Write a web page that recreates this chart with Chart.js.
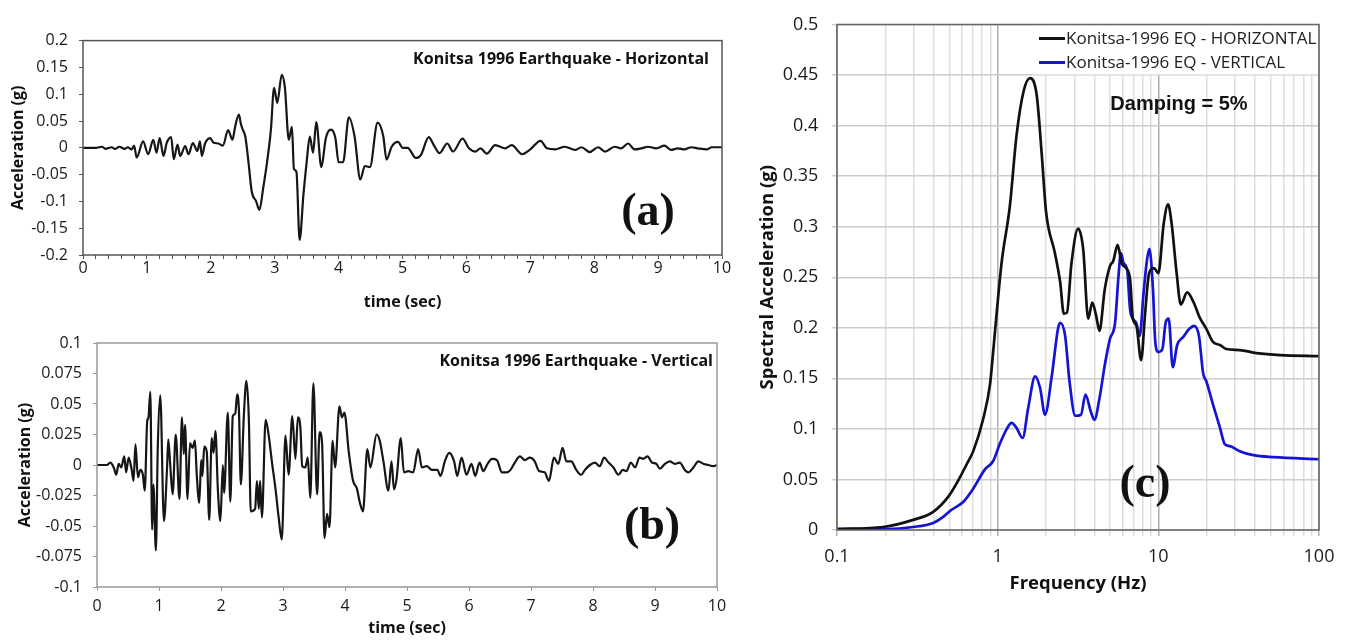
<!DOCTYPE html>
<html>
<head>
<meta charset="utf-8">
<script src="https://cdn.jsdelivr.net/npm/chart.js@4"></script>
<style>
  body { margin: 0; background: #fff; width: 1347px; height: 640px; position: relative; overflow: hidden; }
  canvas { position: absolute; }
</style>
</head>
<body>
<canvas id="chartH" width="740" height="300" style="left:0;top:20px"></canvas>
<canvas id="chartV" width="740" height="320" style="left:0;top:320px"></canvas>
<canvas id="chartSpec" width="607" height="640" style="left:740px;top:0"></canvas>
<script>
// Akcelerogram - skladowa pozioma (czas [s], przyspieszenie [g])
const timeH = [0, 0.2, 0.3, 0.35, 0.45, 0.5, 0.57, 0.65, 0.7, 0.76, 0.8, 0.84, 0.94, 1.02, 1.1, 1.15, 1.2, 1.26, 1.31, 1.38,
  1.42, 1.48, 1.52, 1.6, 1.65, 1.72, 1.79, 1.83, 1.86, 1.91, 1.99, 2.04, 2.12, 2.19, 2.27, 2.34, 2.38, 2.44, 2.47, 2.5,
  2.54, 2.59, 2.64, 2.71, 2.76, 2.82, 2.88, 2.94, 2.99, 3.04, 3.11, 3.16, 3.22, 3.27, 3.3, 3.34, 3.39, 3.45, 3.5, 3.55,
  3.6, 3.65, 3.73, 3.8, 3.88, 3.95, 4.0, 4.07, 4.16, 4.25, 4.34, 4.41, 4.49, 4.61, 4.7, 4.75, 4.83, 4.93,
  5.0, 5.08, 5.21, 5.29, 5.41, 5.49, 5.58, 5.7, 5.79, 5.94, 6.04, 6.14, 6.22, 6.32, 6.45, 6.61, 6.71, 6.87, 7.0, 7.16,
  7.26, 7.39, 7.54, 7.7, 7.8, 7.93, 8.06, 8.17, 8.32, 8.42, 8.53, 8.63, 8.74, 8.84, 8.97, 9.1, 9.2, 9.31, 9.41, 9.52,
  9.62, 9.76, 9.84, 10];
const accH = [0, 0, 0.002, -0.002, 0.001, -0.002, 0.002, -0.002, 0.001, -0.003, 0.004, -0.018, 0.012, -0.012, 0.015, -0.009, 0.018, -0.015, 0.009, 0.020,
  -0.021, 0.006, -0.015, 0.003, -0.012, 0.009, -0.006, 0.012, -0.015, 0.008, 0.018, 0.010, 0.008, 0.004, 0.033, 0.015, 0.039, 0.062, 0.045, 0.034,
  0.021, -0.027, -0.081, -0.100, -0.116, -0.075, -0.027, 0.033, 0.112, 0.084, 0.136, 0.112, 0.015, 0.039, -0.039, -0.045, -0.172, -0.087, -0.027, 0.021,
  -0.009, 0.048, -0.036, 0.018, 0.034, 0.018, -0.027, -0.027, 0.057, 0.021, -0.059, -0.034, -0.036, 0.047, 0.021, -0.022, 0.002, 0.011,
  0, 0, -0.019, -0.013, 0.020, 0.005, -0.010, 0.008, -0.007, 0.017, -0.001, -0.007, -0.001, -0.011, 0.005, -0.001, 0.005, -0.012, -0.003, 0.013,
  -0.001, -0.003, 0.002, -0.004, 0.001, -0.008, 0.001, -0.007, 0.002, -0.001, 0.008, -0.003, -0.001, 0.002, -0.001, 0.004, -0.004, -0.001, -0.003, 0.001,
  -0.001, -0.003, 0.001, 0.001];

// Akcelerogram - skladowa pionowa
const timeV = [0, 0.16, 0.215, 0.27, 0.31, 0.35, 0.39, 0.44, 0.47, 0.51, 0.56, 0.59, 0.62, 0.66, 0.7, 0.74, 0.77, 0.81, 0.83, 0.86,
  0.89, 0.91, 0.95, 0.98, 1.02, 1.08, 1.13, 1.15, 1.18, 1.22, 1.27, 1.33, 1.37, 1.4, 1.42, 1.46, 1.5, 1.54, 1.58, 1.61,
  1.65, 1.68, 1.7, 1.73, 1.77, 1.81, 1.85, 1.88, 1.91, 1.95, 1.99, 2.03, 2.05, 2.11, 2.15, 2.19, 2.23, 2.26, 2.29, 2.32,
  2.37, 2.41, 2.45, 2.48, 2.55, 2.58, 2.61, 2.63, 2.66, 2.72, 2.77, 2.82, 2.88, 2.93, 2.98, 3.04, 3.09, 3.15, 3.2, 3.24,
  3.28, 3.31, 3.36, 3.4, 3.44, 3.49, 3.55, 3.59, 3.63, 3.67, 3.71, 3.75, 3.8, 3.84, 3.91, 3.95, 3.99, 4.06,
  4.13, 4.19, 4.24, 4.29, 4.36, 4.41, 4.51, 4.56, 4.62, 4.7, 4.75, 4.79, 4.83, 4.9, 4.95, 5.02, 5.1, 5.18, 5.24, 5.32,
  5.4, 5.49, 5.54, 5.61, 5.68, 5.76, 5.81, 5.88, 5.96, 6.04, 6.1, 6.17, 6.23, 6.3, 6.37, 6.45, 6.53, 6.61, 6.67, 6.74,
  6.82, 6.9, 6.98, 7.06, 7.13, 7.22, 7.29, 7.37, 7.44, 7.51, 7.57, 7.65, 7.73, 7.81, 7.87, 7.95, 8.03, 8.11, 8.18, 8.25,
  8.33, 8.41, 8.48, 8.54, 8.61, 8.68, 8.75, 8.81, 8.88, 8.95, 9.02, 9.08, 9.16, 9.24, 9.32, 9.4, 9.48, 9.54, 9.62, 9.7,
  9.78, 9.86, 9.94, 10];
const accV = [0, 0, 0.002, -0.002, -0.008, 0.001, -0.002, 0.007, -0.006, 0.006, -0.004, -0.013, 0.017, -0.010, -0.004, -0.008, -0.021, 0.036, 0.039, 0.060,
  -0.053, -0.016, -0.070, 0.014, 0.057, -0.046, -0.002, 0.021, 0.001, -0.024, 0.025, -0.028, 0.039, 0.009, 0.033, -0.028, 0.018, 0.014, 0.020, -0.009,
  -0.031, 0.004, -0.009, 0.015, 0.011, -0.045, 0.022, 0.010, 0.028, -0.021, -0.046, 0, -0.023, 0.043, -0.030, 0.040, 0.042, 0.058, 0.044, -0.016,
  0.042, 0.069, 0.036, -0.038, -0.036, -0.013, -0.036, -0.013, -0.043, 0.037, 0.024, 0.003, -0.020, -0.043, -0.061, 0.024, -0.008, 0.040, 0.005, 0.039,
  0.031, -0.001, -0.002, 0.006, -0.027, 0.067, -0.024, 0.027, 0.018, -0.060, -0.040, -0.051, 0.020, -0.002, 0.048, 0.039, 0.043, 0.011,
  -0.013, -0.019, -0.031, -0.038, 0.013, -0.002, 0.025, 0.020, 0.003, -0.021, 0.003, -0.020, -0.012, 0.022, -0.006, -0.005, -0.006, 0.013, -0.002, -0.001,
  -0.004, -0.004, -0.009, 0.003, 0.010, 0.003, -0.009, 0.006, -0.008, 0.001, -0.009, 0.002, -0.005, 0.001, 0.005, 0.004, -0.006, -0.006, -0.004, 0.002,
  0.007, 0.004, 0.006, 0.003, -0.005, -0.006, -0.013, 0.006, 0.001, 0.014, 0.003, 0.003, -0.004, -0.008, -0.004, 0, 0.002, -0.001, 0.006, 0.002,
  -0.002, -0.008, -0.004, -0.005, 0.002, -0.002, 0.006, 0.005, 0.007, 0.002, 0.001, -0.003, 0.001, 0.003, 0.001, 0.002, -0.004, -0.006, -0.002, 0.003,
  0.001, 0, -0.001, 0];

// Spektrum odpowiedzi (czestotliwosc [Hz], przyspieszenie spektralne [g])
const freqH = [0.1, 0.194, 0.298, 0.397, 0.493, 0.582, 0.641, 0.705, 0.813, 0.896, 0.936, 0.98, 1.059, 1.19, 1.31, 1.45, 1.59, 1.75, 1.88, 2.0,
  2.27, 2.45, 2.58, 2.7, 2.88, 3.17, 3.41, 3.66, 3.88, 4.1, 4.3, 4.64, 5.0, 5.24, 5.58, 5.91, 6.3, 6.67, 6.94, 7.31,
  7.81, 8.28, 8.76, 9.4, 10.0, 10.8, 11.5, 12.1, 13.0, 13.8, 15.1, 16.6, 18.1, 19.9, 21.9, 24.2, 26.5, 32.1, 40.8, 57.4, 100];
const saH = [0.001, 0.003, 0.010, 0.018, 0.033, 0.052, 0.065, 0.078, 0.110, 0.144, 0.175, 0.210, 0.265, 0.320, 0.390, 0.434, 0.447, 0.430, 0.372, 0.315,
  0.274, 0.245, 0.214, 0.215, 0.264, 0.298, 0.277, 0.209, 0.225, 0.212, 0.197, 0.238, 0.261, 0.266, 0.282, 0.264, 0.259, 0.248, 0.209, 0.202,
  0.168, 0.215, 0.254, 0.259, 0.254, 0.303, 0.322, 0.303, 0.254, 0.223, 0.235, 0.225, 0.210, 0.199, 0.186, 0.183, 0.179, 0.178, 0.175, 0.173, 0.172];
const freqV = [0.1, 0.204, 0.298, 0.397, 0.458, 0.517, 0.612, 0.705, 0.833, 0.936, 1.03, 1.14, 1.22, 1.31, 1.43, 1.55, 1.71, 1.84, 1.97, 2.17,
  2.38, 2.45, 2.63, 2.8, 3.04, 3.3, 3.52, 3.8, 4.0, 4.3, 4.64, 5.0, 5.38, 5.65, 5.85, 6.08, 6.39, 6.67, 6.94, 7.28,
  7.65, 8.1, 8.5, 8.8, 9.26, 9.57, 10.0, 10.6, 11.1, 11.6, 12.3, 13.1, 14.3, 15.6, 16.7, 17.9, 19.0, 19.9, 21.9, 24.2,
  25.9, 27.9, 32.1, 39.0, 52.0, 100];
const saV = [0.001, 0.001, 0.003, 0.007, 0.013, 0.020, 0.028, 0.041, 0.060, 0.068, 0.085, 0.100, 0.106, 0.101, 0.091, 0.121, 0.152, 0.140, 0.114, 0.152,
  0.200, 0.205, 0.192, 0.147, 0.113, 0.114, 0.134, 0.117, 0.109, 0.130, 0.163, 0.189, 0.205, 0.251, 0.274, 0.264, 0.258, 0.218, 0.209, 0.205,
  0.192, 0.235, 0.267, 0.278, 0.238, 0.186, 0.176, 0.179, 0.205, 0.209, 0.161, 0.183, 0.191, 0.199, 0.202, 0.192, 0.155, 0.147, 0.124, 0.101,
  0.085, 0.083, 0.078, 0.074, 0.072, 0.070];

// Etykiety osi czestotliwosci (dekady)
const freqDecades = [0.1, 1, 10, 100];

Chart.defaults.font.family = "'Open Sans', sans-serif";
Chart.defaults.color = '#1a1a1a';

const toPoints = (xs, ys) => xs.map((x, i) => ({ x: x, y: ys[i] }));
const fmt = v => String(+v.toFixed(3));

// Ramka wokol obszaru wykresu
function framePlugin(color, width) {
  return {
    id: 'frame',
    afterDraw(chart) {
      const { ctx, chartArea: a } = chart;
      ctx.save();
      ctx.strokeStyle = color;
      ctx.lineWidth = width;
      ctx.strokeRect(a.left, a.top, a.right - a.left, a.bottom - a.top);
      ctx.restore();
    }
  };
}

// Napisy wewnatrz wykresu (tytul, oznaczenie panelu)
function notesPlugin(notes) {
  return {
    id: 'notes',
    afterDraw(chart) {
      const { ctx, chartArea: a } = chart;
      ctx.save();
      ctx.textBaseline = 'middle';
      notes.forEach(n => {
        ctx.font = n.font;
        ctx.fillStyle = n.color || '#111';
        ctx.textAlign = n.align;
        ctx.fillText(n.text, a.left + n.dx, a.top + n.dy);
      });
      ctx.restore();
    }
  };
}

// Legenda w prawym gornym rogu wykresu spektrum
const legendBox = {
  id: 'legendBox',
  afterDatasetsDraw(chart) {
    const { ctx, chartArea: a } = chart;
    ctx.save();
    ctx.fillStyle = '#fff';
    ctx.fillRect(a.left + 196, a.top + 1, a.right - a.left - 197, 49);
    ctx.font = "17px 'Open Sans'";
    ctx.textBaseline = 'middle';
    ctx.textAlign = 'left';
    chart.data.datasets.forEach((ds, i) => {
      const y = a.top + 14 + i * 24;
      ctx.strokeStyle = ds.borderColor;
      ctx.lineWidth = 3;
      ctx.beginPath();
      ctx.moveTo(a.left + 202, y);
      ctx.lineTo(a.left + 228, y);
      ctx.stroke();
      ctx.fillStyle = '#222';
      ctx.fillText(ds.label, a.left + 229, y + 1);
    });
    ctx.restore();
  }
};

function timeChart(id, times, accs, opts) {
  return new Chart(document.getElementById(id), {
    type: 'line',
    data: {
      datasets: [{
        data: toPoints(times, accs),
        borderColor: '#161616',
        borderWidth: 2.2,
        pointRadius: 0,
        cubicInterpolationMode: 'monotone'
      }]
    },
    options: {
      responsive: false,
      animation: false,
      layout: { padding: opts.padding },
      plugins: { legend: { display: false }, tooltip: { enabled: false } },
      scales: {
        x: {
          type: 'linear',
          min: 0,
          max: 10,
          afterFit: s => { s.height = opts.xHeight; },
          ticks: {
            stepSize: opts.xStep,
            autoSkip: false,
            maxRotation: 0,
            padding: opts.xPad,
            font: { size: 16 },
            callback: v => Math.abs(v - Math.round(v)) < 1e-6 ? String(Math.round(v)) : ''
          },
          grid: { drawOnChartArea: false, tickLength: 4, color: opts.frame },
          border: { display: false },
          title: {
            display: true,
            text: 'time (sec)',
            color: '#111',
            font: { size: 16, weight: 'bold' },
            padding: { top: 0, bottom: opts.xTitlePad }
          }
        },
        y: {
          min: -opts.yMax,
          max: opts.yMax,
          afterFit: s => { s.width = opts.yWidth; },
          ticks: { stepSize: opts.yStep, padding: 11, font: { size: 16 }, callback: fmt },
          grid: { drawOnChartArea: false, tickLength: 4, color: opts.frame },
          border: { display: false },
          title: {
            display: true,
            text: 'Acceleration (g)',
            color: '#111',
            font: { size: 16, weight: 'bold' },
            padding: { top: opts.yTitlePad, bottom: 0 }
          }
        }
      }
    },
    plugins: [framePlugin(opts.frame, 1.5), notesPlugin(opts.notes)]
  });
}

// (a) skladowa pozioma
timeChart('chartH', timeH, accH, {
  padding: { top: 14, right: 18, left: 0, bottom: 0 },
  xHeight: 65, xStep: 0.2, xPad: 0, xTitlePad: 8.4,
  yWidth: 83, yMax: 0.2, yStep: 0.05, yTitlePad: 8.4,
  frame: '#555',
  notes: [
    { text: 'Konitsa 1996 Earthquake - Horizontal', font: "bold 16px 'Open Sans'", align: 'right', dx: 626, dy: 19 },
    { text: '(a)', font: "bold 46px 'Liberation Serif'", align: 'center', dx: 565, dy: 173 }
  ]
});

// (b) skladowa pionowa
timeChart('chartV', timeV, accV, {
  padding: { top: 23, right: 23, left: 0, bottom: 0 },
  xHeight: 53, xStep: 1, xPad: 6.1, xTitlePad: 2.4,
  yWidth: 97, yMax: 0.1, yStep: 0.025, yTitlePad: 16.2,
  frame: '#999',
  notes: [
    { text: 'Konitsa 1996 Earthquake - Vertical', font: "bold 16px 'Open Sans'", align: 'right', dx: 616, dy: 18 },
    { text: '(b)', font: "bold 46px 'Liberation Serif'", align: 'center', dx: 555, dy: 184 }
  ]
});

// (c) spektrum odpowiedzi, skala logarytmiczna
const freqGrid = [];
freqDecades.slice(0, -1).forEach(d => {
  for (let m = 1; m <= 9; m++) freqGrid.push(+(d * m).toFixed(2));
});
freqGrid.push(freqDecades[freqDecades.length - 1]);

new Chart(document.getElementById('chartSpec'), {
  type: 'line',
  data: {
    datasets: [
      {
        label: 'Konitsa-1996 EQ - HORIZONTAL',
        data: toPoints(freqH, saH),
        borderColor: '#111',
        borderWidth: 2.7,
        pointRadius: 0,
        cubicInterpolationMode: 'monotone'
      },
      {
        label: 'Konitsa-1996 EQ - VERTICAL',
        data: toPoints(freqV, saV),
        borderColor: '#1414d2',
        borderWidth: 2.7,
        pointRadius: 0,
        cubicInterpolationMode: 'monotone'
      }
    ]
  },
  options: {
    responsive: false,
    animation: false,
    layout: { padding: { top: 19, right: 28, left: 0, bottom: 0 } },
    plugins: { legend: { display: false }, tooltip: { enabled: false } },
    scales: {
      x: {
        type: 'logarithmic',
        min: 0.1,
        max: 100,
        afterBuildTicks: s => { s.ticks = freqGrid.map(v => ({ value: v })); },
        afterFit: s => { s.height = 110; },
        ticks: {
          autoSkip: false,
          maxRotation: 0,
          padding: 9.9,
          font: { size: 18 },
          callback: v => freqDecades.includes(v) ? String(v) : ''
        },
        grid: {
          tickLength: 6,
          lineWidth: 1.5,
          color: c => c.tick && freqDecades.includes(c.tick.value) ? '#b0b0b0' : '#dedede'
        },
        border: { display: false },
        title: {
          display: true,
          text: 'Frequency (Hz)',
          color: '#111',
          font: { size: 18.5, weight: 'bold' },
          padding: { top: 0, bottom: 44.9 }
        }
      },
      y: {
        min: 0,
        max: 0.5,
        afterFit: s => { s.width = 97; },
        ticks: { stepSize: 0.05, padding: 13.7, font: { size: 18 }, callback: fmt },
        grid: { tickLength: 5, lineWidth: 1.5, color: '#cccccc' },
        border: { display: false },
        title: {
          display: true,
          text: 'Spectral Acceleration (g)',
          color: '#111',
          font: { size: 18.5, weight: 'bold' },
          padding: { top: 16.6, bottom: 0 }
        }
      }
    }
  },
  plugins: [
    legendBox,
    framePlugin('#666', 1.5),
    notesPlugin([
      { text: 'Damping = 5%', font: "bold 20px 'Liberation Sans'", align: 'center', dx: 342, dy: 80 },
      { text: '(c)', font: "bold 46px 'Liberation Serif'", align: 'center', dx: 308, dy: 461 }
    ])
  ]
});
</script>
</body>
</html>
